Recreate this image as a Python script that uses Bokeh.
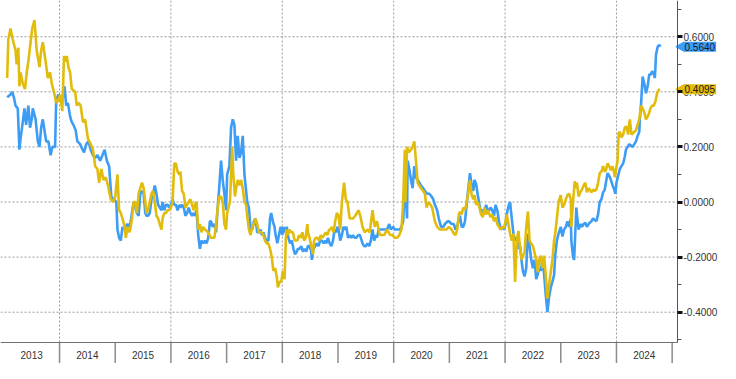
import math
from bokeh.plotting import figure
from bokeh.models import (Range1d, LinearAxis, FixedTicker, NumeralTickFormatter,
                          CustomJSTickFormatter, Label)
from bokeh.embed import file_html
from bokeh.resources import INLINE

# ---------------- data (decimal years, values) ----------------
years = [2013, 2014, 2015, 2016, 2017, 2018, 2019, 2020, 2021, 2022, 2023, 2024]
year_edges = [2014, 2015, 2016, 2017, 2018, 2019, 2020, 2021, 2022, 2023, 2024, 2025]
grid_years = [2014, 2016, 2018, 2020, 2022, 2024]
y_ticks = [-0.4, -0.2, 0.0, 0.2, 0.4, 0.6]
y_minor = [-0.5, -0.3, -0.1, 0.1, 0.3, 0.5, 0.7]

blue_t = [
    2013.06, 2013.12, 2013.15, 2013.18, 2013.21, 2013.25, 2013.28, 2013.30, 2013.34, 2013.37, 2013.40, 2013.44, 2013.47, 2013.50, 2013.52, 2013.57, 2013.61, 2013.64, 2013.67, 2013.70, 2013.73, 2013.76, 2013.80, 2013.84, 2013.87, 2013.92, 2013.94, 2013.98,
    2014.02, 2014.06, 2014.09, 2014.12, 2014.15, 2014.19, 2014.22, 2014.25, 2014.29, 2014.32, 2014.37, 2014.39, 2014.44, 2014.48, 2014.52, 2014.56, 2014.60, 2014.64, 2014.68, 2014.73, 2014.77, 2014.81, 2014.85, 2014.89, 2014.93, 2014.97, 2015.02,
    2015.04, 2015.07, 2015.10, 2015.13, 2015.16, 2015.19, 2015.22, 2015.25, 2015.27, 2015.30, 2015.33, 2015.36, 2015.39, 2015.42, 2015.45, 2015.48, 2015.51, 2015.54, 2015.56, 2015.59, 2015.62, 2015.65, 2015.68, 2015.71, 2015.74, 2015.77, 2015.80, 2015.83, 2015.85, 2015.88, 2015.91, 2015.94, 2015.97, 2016.00,
    2016.03, 2016.06, 2016.09, 2016.12, 2016.15, 2016.17, 2016.20, 2016.23, 2016.26, 2016.29, 2016.32, 2016.35, 2016.38, 2016.41, 2016.43, 2016.46, 2016.49, 2016.52, 2016.55, 2016.58, 2016.61, 2016.64, 2016.67, 2016.70, 2016.72, 2016.75, 2016.78, 2016.81, 2016.84, 2016.87, 2016.90, 2016.93, 2016.96, 2016.99, 2017.01,
    2017.05, 2017.08, 2017.11, 2017.14, 2017.17, 2017.20, 2017.23, 2017.26, 2017.29, 2017.32, 2017.35, 2017.37, 2017.40, 2017.43, 2017.46, 2017.49, 2017.52, 2017.55, 2017.58, 2017.61, 2017.63, 2017.66, 2017.69, 2017.72, 2017.75, 2017.78, 2017.80, 2017.83, 2017.86, 2017.88, 2017.91, 2017.94, 2017.97, 2018.00,
    2018.02, 2018.05, 2018.08, 2018.11, 2018.14, 2018.17, 2018.20, 2018.23, 2018.26, 2018.28, 2018.31, 2018.34, 2018.37, 2018.40, 2018.43, 2018.46, 2018.49, 2018.52, 2018.53, 2018.56, 2018.59, 2018.62, 2018.65, 2018.68, 2018.71, 2018.74, 2018.77, 2018.79, 2018.82, 2018.85, 2018.88, 2018.91, 2018.94, 2018.97, 2018.99,
    2019.01, 2019.04, 2019.07, 2019.10, 2019.12, 2019.15, 2019.18, 2019.21, 2019.24, 2019.27, 2019.30, 2019.33, 2019.36, 2019.39, 2019.41, 2019.44, 2019.47, 2019.50, 2019.53, 2019.56, 2019.59, 2019.62, 2019.65, 2019.68, 2019.70, 2019.73, 2019.76, 2019.82, 2019.88, 2019.92, 2019.95, 2019.99,
    2020.02, 2020.05, 2020.08, 2020.11, 2020.14, 2020.17, 2020.20, 2020.23, 2020.24, 2020.25, 2020.28, 2020.31, 2020.34, 2020.37, 2020.40, 2020.43, 2020.46, 2020.49, 2020.53, 2020.56, 2020.60, 2020.64, 2020.68, 2020.71, 2020.74, 2020.78, 2020.81, 2020.85, 2020.89, 2020.92, 2020.97,
    2020.99, 2021.04, 2021.08, 2021.11, 2021.14, 2021.17, 2021.19, 2021.22, 2021.25, 2021.28, 2021.31, 2021.34, 2021.37, 2021.40, 2021.43, 2021.45, 2021.48, 2021.51, 2021.54, 2021.57, 2021.60, 2021.63, 2021.66, 2021.69, 2021.72, 2021.74, 2021.77, 2021.80, 2021.83, 2021.86, 2021.89, 2021.92, 2021.95, 2021.98,
    2022.01, 2022.03, 2022.06, 2022.09, 2022.12, 2022.15, 2022.18, 2022.21, 2022.24, 2022.27, 2022.30, 2022.32, 2022.35, 2022.38, 2022.41, 2022.44, 2022.47, 2022.50, 2022.53, 2022.56, 2022.59, 2022.61, 2022.64, 2022.67, 2022.70, 2022.73, 2022.76, 2022.79, 2022.82, 2022.85, 2022.88, 2022.90, 2022.93, 2022.96,
    2023.00, 2023.03, 2023.06, 2023.09, 2023.12, 2023.15, 2023.18, 2023.19, 2023.22, 2023.24, 2023.26, 2023.28, 2023.29, 2023.32, 2023.35, 2023.38, 2023.41, 2023.44, 2023.47, 2023.50, 2023.52, 2023.55, 2023.58, 2023.61, 2023.64, 2023.67, 2023.70, 2023.73, 2023.76, 2023.79, 2023.81, 2023.84, 2023.87, 2023.90, 2023.93, 2023.96, 2023.98,
    2024.00, 2024.03, 2024.06, 2024.09, 2024.12, 2024.15, 2024.17, 2024.20, 2024.23, 2024.26, 2024.29, 2024.32, 2024.35, 2024.38, 2024.41, 2024.42, 2024.44, 2024.47, 2024.50, 2024.53, 2024.56, 2024.59, 2024.61, 2024.64, 2024.67, 2024.69, 2024.71, 2024.74, 2024.77, 2024.79,
]
blue_v = [
    0.38, 0.39, 0.40, 0.38, 0.35, 0.34, 0.19, 0.23, 0.29, 0.34, 0.28, 0.35, 0.27, 0.30, 0.34, 0.30, 0.22, 0.20, 0.27, 0.30, 0.26, 0.22, 0.22, 0.17, 0.20, 0.20, 0.37, 0.39,
    0.37, 0.38, 0.42, 0.35, 0.36, 0.31, 0.29, 0.28, 0.26, 0.22, 0.21, 0.20, 0.18, 0.21, 0.22, 0.19, 0.17, 0.16, 0.17, 0.15, 0.17, 0.19, 0.15, 0.13, 0.02, 0.01, 0.00,
    -0.10, -0.13, -0.14, -0.09, -0.10, -0.09, -0.08, -0.09, -0.08, -0.04, 0.00, -0.02, -0.04, -0.05, 0.03, 0.04, 0.03, -0.04, -0.05, -0.05, -0.04, 0.01, 0.03, 0.06, 0.03, -0.01, -0.02, -0.03, 0.00, -0.03, -0.01, -0.01, -0.02, -0.01,
    0.01, -0.01, -0.01, -0.03, -0.01, -0.02, -0.01, -0.02, -0.05, -0.04, -0.02, -0.04, -0.05, -0.04, -0.05, -0.03, -0.12, -0.17, -0.14, -0.15, -0.14, -0.15, -0.13, -0.07, -0.07, -0.09, -0.08, -0.11, -0.02, 0.06, 0.15, 0.08, 0.03, -0.03, 0.10,
    0.13, 0.27, 0.30, 0.28, 0.15, 0.24, 0.16, 0.18, 0.24, 0.10, 0.04, 0.00, -0.02, -0.10, -0.10, -0.07, -0.06, -0.11, -0.11, -0.10, -0.12, -0.11, -0.13, -0.14, -0.14, -0.06, -0.04, -0.07, -0.09, -0.12, -0.15, -0.12, -0.09, -0.12,
    -0.09, -0.11, -0.09, -0.13, -0.15, -0.14, -0.17, -0.19, -0.18, -0.17, -0.17, -0.16, -0.18, -0.17, -0.18, -0.16, -0.16, -0.18, -0.21, -0.17, -0.16, -0.15, -0.16, -0.14, -0.14, -0.15, -0.14, -0.15, -0.13, -0.15, -0.16, -0.14, -0.10, -0.11, -0.09,
    -0.10, -0.14, -0.12, -0.09, -0.10, -0.09, -0.13, -0.12, -0.13, -0.12, -0.13, -0.13, -0.12, -0.12, -0.13, -0.15, -0.16, -0.16, -0.15, -0.16, -0.14, -0.10, -0.14, -0.12, -0.13, -0.10, -0.10, -0.10, -0.10, -0.08, -0.10, -0.09,
    -0.10, -0.10, -0.10, -0.10, -0.09, -0.07, 0.05, -0.02, -0.06, 0.15, 0.12, 0.08, 0.05, 0.13, 0.09, 0.08, 0.07, 0.06, 0.05, 0.04, 0.03, 0.03, 0.02, 0.01, -0.01, -0.03, -0.06, -0.09, -0.09, -0.08, -0.07,
    -0.07, -0.08, -0.08, -0.10, -0.09, -0.06, -0.05, -0.09, -0.09, -0.07, -0.01, 0.05, 0.105, 0.06, 0.04, 0.08, 0.065, 0.025, -0.01, -0.04, -0.03, -0.03, -0.01, -0.03, -0.03, -0.02, -0.03, -0.05, -0.01, -0.03, -0.07, -0.10, -0.09, -0.10,
    -0.08, -0.045, -0.015, 0.00, -0.06, -0.115, -0.14, -0.13, -0.17, -0.16, -0.22, -0.25, -0.27, -0.24, -0.115, -0.16, -0.21, -0.24, -0.21, -0.28, -0.26, -0.24, -0.25, -0.21, -0.26, -0.335, -0.40, -0.345, -0.31, -0.29, -0.265, -0.195, -0.14, -0.115,
    -0.09, -0.125, -0.10, -0.09, -0.07, -0.09, -0.06, -0.14, -0.20, -0.21, -0.115, -0.02, -0.045, -0.10, -0.08, -0.09, -0.08, -0.075, -0.09, -0.08, -0.075, -0.07, -0.06, -0.065, -0.07, -0.045, 0.00, 0.01, 0.035, 0.045, 0.07, 0.105, 0.095, 0.08, 0.06, 0.045, 0.03,
    0.07, 0.095, 0.12, 0.13, 0.14, 0.165, 0.19, 0.20, 0.21, 0.205, 0.20, 0.21, 0.22, 0.24, 0.255, 0.30, 0.35, 0.455, 0.43, 0.395, 0.42, 0.465, 0.46, 0.475, 0.465, 0.45, 0.535, 0.564, 0.57, 0.564,
]

gold_t = [
    2013.06, 2013.08, 2013.12, 2013.16, 2013.21, 2013.23, 2013.26, 2013.28, 2013.30, 2013.34, 2013.38, 2013.41, 2013.44, 2013.48, 2013.51, 2013.55, 2013.59, 2013.64, 2013.67, 2013.70, 2013.75, 2013.79, 2013.83, 2013.86, 2013.90, 2013.94, 2013.98,
    2014.01, 2014.05, 2014.08, 2014.10, 2014.13, 2014.16, 2014.19, 2014.22, 2014.28, 2014.31, 2014.34, 2014.38, 2014.42, 2014.46, 2014.51, 2014.56, 2014.60, 2014.64, 2014.68, 2014.71, 2014.75, 2014.79, 2014.83, 2014.87, 2014.92, 2014.96, 2015.00,
    2015.04, 2015.07, 2015.10, 2015.13, 2015.16, 2015.19, 2015.22, 2015.25, 2015.27, 2015.30, 2015.33, 2015.36, 2015.39, 2015.42, 2015.45, 2015.48, 2015.51, 2015.54, 2015.56, 2015.59, 2015.62, 2015.65, 2015.68, 2015.71, 2015.74, 2015.77, 2015.80, 2015.83, 2015.85, 2015.88, 2015.91, 2015.94, 2015.97, 2016.00,
    2016.03, 2016.06, 2016.09, 2016.12, 2016.15, 2016.17, 2016.20, 2016.23, 2016.26, 2016.29, 2016.32, 2016.35, 2016.38, 2016.41, 2016.43, 2016.46, 2016.49, 2016.52, 2016.55, 2016.58, 2016.61, 2016.67, 2016.72, 2016.78, 2016.81, 2016.84, 2016.87, 2016.90, 2016.93, 2016.96, 2016.99, 2017.01,
    2017.06, 2017.10, 2017.12, 2017.15, 2017.17, 2017.20, 2017.23, 2017.26, 2017.29, 2017.32, 2017.35, 2017.37, 2017.40, 2017.43, 2017.46, 2017.49, 2017.52, 2017.55, 2017.58, 2017.61, 2017.63, 2017.66, 2017.69, 2017.72, 2017.75, 2017.78, 2017.81, 2017.84, 2017.87, 2017.90, 2017.92, 2017.95, 2017.98,
    2018.01, 2018.04, 2018.07, 2018.10, 2018.13, 2018.16, 2018.19, 2018.22, 2018.24, 2018.27, 2018.30, 2018.33, 2018.36, 2018.39, 2018.42, 2018.45, 2018.46, 2018.49, 2018.52, 2018.55, 2018.57, 2018.60, 2018.63, 2018.66, 2018.69, 2018.72, 2018.75, 2018.78, 2018.81, 2018.84, 2018.86, 2018.89, 2018.92, 2018.95, 2018.98,
    2019.01, 2019.04, 2019.07, 2019.11, 2019.14, 2019.17, 2019.21, 2019.27, 2019.31, 2019.37, 2019.40, 2019.44, 2019.48, 2019.53, 2019.57, 2019.62, 2019.66, 2019.70, 2019.75, 2019.79, 2019.83, 2019.88, 2019.94, 2019.98,
    2020.02, 2020.06, 2020.10, 2020.14, 2020.17, 2020.20, 2020.21, 2020.24, 2020.27, 2020.31, 2020.34, 2020.37, 2020.40, 2020.43, 2020.49, 2020.53, 2020.56, 2020.59, 2020.62, 2020.66, 2020.69, 2020.74, 2020.78, 2020.83, 2020.89, 2020.95,
    2020.99, 2021.04, 2021.08, 2021.11, 2021.14, 2021.17, 2021.19, 2021.22, 2021.25, 2021.28, 2021.31, 2021.34, 2021.37, 2021.40, 2021.43, 2021.45, 2021.48, 2021.51, 2021.54, 2021.57, 2021.60, 2021.63, 2021.66, 2021.69, 2021.72, 2021.74, 2021.77, 2021.80, 2021.83, 2021.86, 2021.89, 2021.92, 2021.95, 2021.98,
    2022.01, 2022.03, 2022.06, 2022.09, 2022.12, 2022.15, 2022.18, 2022.21, 2022.24, 2022.27, 2022.30, 2022.32, 2022.35, 2022.38, 2022.41, 2022.44, 2022.47, 2022.50, 2022.53, 2022.56, 2022.59, 2022.61, 2022.64, 2022.67, 2022.70, 2022.73, 2022.76, 2022.79, 2022.82, 2022.85, 2022.88, 2022.90, 2022.93, 2022.96,
    2023.00, 2023.03, 2023.06, 2023.09, 2023.12, 2023.15, 2023.18, 2023.19, 2023.22, 2023.25, 2023.28, 2023.29, 2023.32, 2023.35, 2023.38, 2023.41, 2023.44, 2023.47, 2023.50, 2023.52, 2023.55, 2023.58, 2023.61, 2023.64, 2023.67, 2023.70, 2023.73, 2023.76, 2023.79, 2023.81, 2023.84, 2023.87, 2023.90, 2023.93, 2023.96, 2023.97, 2023.99,
    2024.02, 2024.04, 2024.06, 2024.09, 2024.12, 2024.15, 2024.18, 2024.21, 2024.24, 2024.27, 2024.30, 2024.32, 2024.35, 2024.38, 2024.41, 2024.44, 2024.47, 2024.50, 2024.53, 2024.56, 2024.59, 2024.61, 2024.64, 2024.67, 2024.70, 2024.73, 2024.76, 2024.78,
]
gold_v = [
    0.45, 0.59, 0.63, 0.59, 0.55, 0.50, 0.56, 0.42, 0.47, 0.43, 0.41, 0.47, 0.51, 0.58, 0.63, 0.66, 0.55, 0.49, 0.55, 0.58, 0.51, 0.45, 0.47, 0.43, 0.40, 0.36, 0.37,
    0.39, 0.33, 0.53, 0.51, 0.53, 0.49, 0.47, 0.41, 0.40, 0.35, 0.36, 0.35, 0.29, 0.30, 0.23, 0.21, 0.19, 0.13, 0.12, 0.07, 0.12, 0.08, 0.09, 0.06, 0.01, 0.00, 0.02,
    0.10, -0.03, -0.04, -0.06, -0.08, -0.13, -0.09, -0.11, -0.10, -0.06, 0.00, 0.00, -0.04, 0.03, 0.05, 0.07, 0.05, 0.00, -0.04, -0.03, 0.00, 0.03, 0.04, 0.00, -0.05, -0.06, -0.08, -0.10, -0.06, -0.04, -0.04, -0.03, -0.03, -0.02,
    0.00, 0.14, 0.14, 0.11, 0.10, 0.11, 0.04, 0.03, -0.02, -0.01, 0.00, 0.01, -0.01, -0.03, -0.01, 0.00, -0.10, -0.08, -0.11, -0.09, -0.10, -0.11, -0.13, -0.13, -0.08, -0.02, 0.02, 0.02, 0.00, -0.08, -0.10, -0.04,
    0.00, 0.20, 0.10, 0.02, 0.05, 0.08, 0.06, 0.08, 0.05, 0.00, -0.01, -0.05, -0.10, -0.12, -0.09, -0.08, -0.06, -0.08, -0.11, -0.11, -0.11, -0.12, -0.14, -0.15, -0.15, -0.17, -0.20, -0.25, -0.24, -0.27, -0.31, -0.29, -0.29,
    -0.25, -0.28, -0.10, -0.12, -0.10, -0.11, -0.11, -0.14, -0.14, -0.14, -0.12, -0.13, -0.11, -0.14, -0.13, -0.08, -0.11, -0.13, -0.16, -0.19, -0.14, -0.13, -0.13, -0.14, -0.12, -0.13, -0.12, -0.11, -0.12, -0.10, -0.10, -0.09, -0.11, -0.07, -0.04,
    -0.05, -0.10, 0.00, 0.07, 0.01, 0.00, -0.06, -0.06, -0.05, -0.03, -0.05, -0.09, -0.11, -0.10, -0.11, -0.03, -0.09, -0.07, -0.12, -0.12, -0.12, -0.10, -0.12, -0.12,
    -0.13, -0.13, -0.12, -0.10, 0.00, 0.19, 0.00, 0.20, 0.18, 0.19, 0.20, 0.22, 0.15, 0.07, 0.05, 0.04, 0.03, -0.02, 0.00, -0.01, -0.02, -0.07, -0.09, -0.10, -0.10, -0.10,
    -0.09, -0.10, -0.115, -0.12, -0.10, -0.045, -0.035, -0.045, -0.02, -0.03, 0.00, 0.035, 0.08, 0.025, 0.01, 0.025, -0.01, 0.00, -0.02, -0.045, -0.055, -0.02, -0.045, -0.03, -0.045, -0.055, -0.045, -0.07, -0.055, -0.08, -0.09, -0.10, -0.09, -0.095,
    -0.07, -0.045, -0.08, -0.115, -0.14, -0.115, -0.29, -0.14, -0.105, -0.17, -0.21, -0.195, -0.185, -0.09, -0.035, -0.14, -0.15, -0.16, -0.185, -0.21, -0.255, -0.21, -0.195, -0.24, -0.195, -0.265, -0.35, -0.30, -0.255, -0.21, -0.14, -0.115, -0.06, 0.00,
    0.025, -0.02, -0.01, 0.01, 0.025, 0.03, 0.01, -0.09, 0.00, 0.075, 0.05, 0.07, 0.02, 0.035, 0.045, 0.06, 0.07, 0.035, 0.05, 0.045, 0.035, 0.045, 0.04, 0.045, 0.07, 0.105, 0.11, 0.13, 0.11, 0.115, 0.14, 0.13, 0.115, 0.13, 0.105, 0.09, 0.115,
    0.15, 0.25, 0.255, 0.235, 0.245, 0.27, 0.275, 0.245, 0.30, 0.245, 0.25, 0.255, 0.26, 0.28, 0.30, 0.35, 0.34, 0.325, 0.30, 0.31, 0.325, 0.34, 0.35, 0.35, 0.365, 0.395, 0.407, 0.4095,
]

blue_last = 0.5640
gold_last = 0.4095

assert len(blue_t) == len(blue_v), (len(blue_t), len(blue_v))
assert len(gold_t) == len(gold_v), (len(gold_t), len(gold_v))

# ---------------- styling / geometry ----------------
BLUE = "#3d9df5"
GOLD = "#e2bc0c"
FONT = "Liberation Sans"
W, H = 720, 363
AXIS_X_PX = 677    # value axis position (px from left)
AXIS_Y_PX = 342    # time axis position (px from top)
X0, X1 = 2012.94, 2025.096          # time span shown left of the value axis
YB, Y1 = -0.51, 0.7315              # value span shown above the time axis
XR = X0 + (X1 - X0) * W / AXIS_X_PX  # frame continues right of the axis (labels, tags)
YBOT = Y1 - (Y1 - YB) * H / AXIS_Y_PX  # frame continues below the axis (year strip)
DPP = (XR - X0) / W

p = figure(width=W, height=H, output_backend="svg", toolbar_location=None,
           x_range=Range1d(X0, XR), y_range=Range1d(YBOT, Y1),
           x_axis_type=None, y_axis_type=None,
           min_border=0)
p.outline_line_color = None
p.background_fill_color = "white"
p.border_fill_color = "white"

# dotted grid inside the plotting area
p.segment(x0=X0, x1=X1, y0=y_ticks, y1=y_ticks, line_color="#9a9a9a",
          line_dash="2 2", line_width=1)
p.segment(x0=grid_years, x1=grid_years, y0=YB, y1=Y1, line_color="#9a9a9a",
          line_dash="2 2", line_width=1)
# year separators in the date strip
p.segment(x0=year_edges, x1=year_edges, y0=YB, y1=YBOT, line_color="#8c8c8c",
          line_width=1.5)

p.line(blue_t, blue_v, line_color=BLUE, line_width=2.6)
p.line(gold_t, gold_v, line_color=GOLD, line_width=2.6)

mid_years = [y + 0.5 for y in years]
xax = LinearAxis(ticker=FixedTicker(ticks=mid_years),
                 formatter=CustomJSTickFormatter(code="return String(Math.floor(tick));"),
                 fixed_location=YB, bounds=(X0, X1),
                 axis_line_color="#707070", axis_line_width=1,
                 major_tick_in=0, major_tick_out=0,
                 major_label_standoff=8, major_label_text_font=FONT,
                 major_label_text_font_size="10px", major_label_text_color="#333333")
p.add_layout(xax, "below")

yax = LinearAxis(ticker=FixedTicker(ticks=y_ticks, minor_ticks=y_minor),
                 formatter=NumeralTickFormatter(format="0.0000"),
                 fixed_location=X1, bounds=(YB, Y1),
                 axis_line_color="#555555", axis_line_width=1,
                 major_tick_in=0, major_tick_out=5, major_tick_line_width=3,
                 major_tick_line_color="#111111",
                 minor_tick_in=0, minor_tick_out=4, minor_tick_line_color="#555555",
                 major_label_standoff=1, major_label_text_font=FONT,
                 major_label_text_font_size="10px", major_label_text_color="#333333")
p.add_layout(yax, "right")

# last-value tags on the value axis
for val, col in ((blue_last, BLUE), (gold_last, GOLD)):
    p.scatter(x=[X1 + 3.5 * DPP], y=[val], marker="triangle", angle=math.pi / 2,
              size=9, fill_color=col, line_color=col)
    p.add_layout(Label(x=X1, y=val, x_offset=6, text=f"{val:.4f}", text_color="#1a1a1a",
                       text_font=FONT, text_font_size="10px",
                       text_align="left", text_baseline="middle",
                       background_fill_color=col, padding=1))

open("out.html", "w").write(file_html(p, INLINE))
